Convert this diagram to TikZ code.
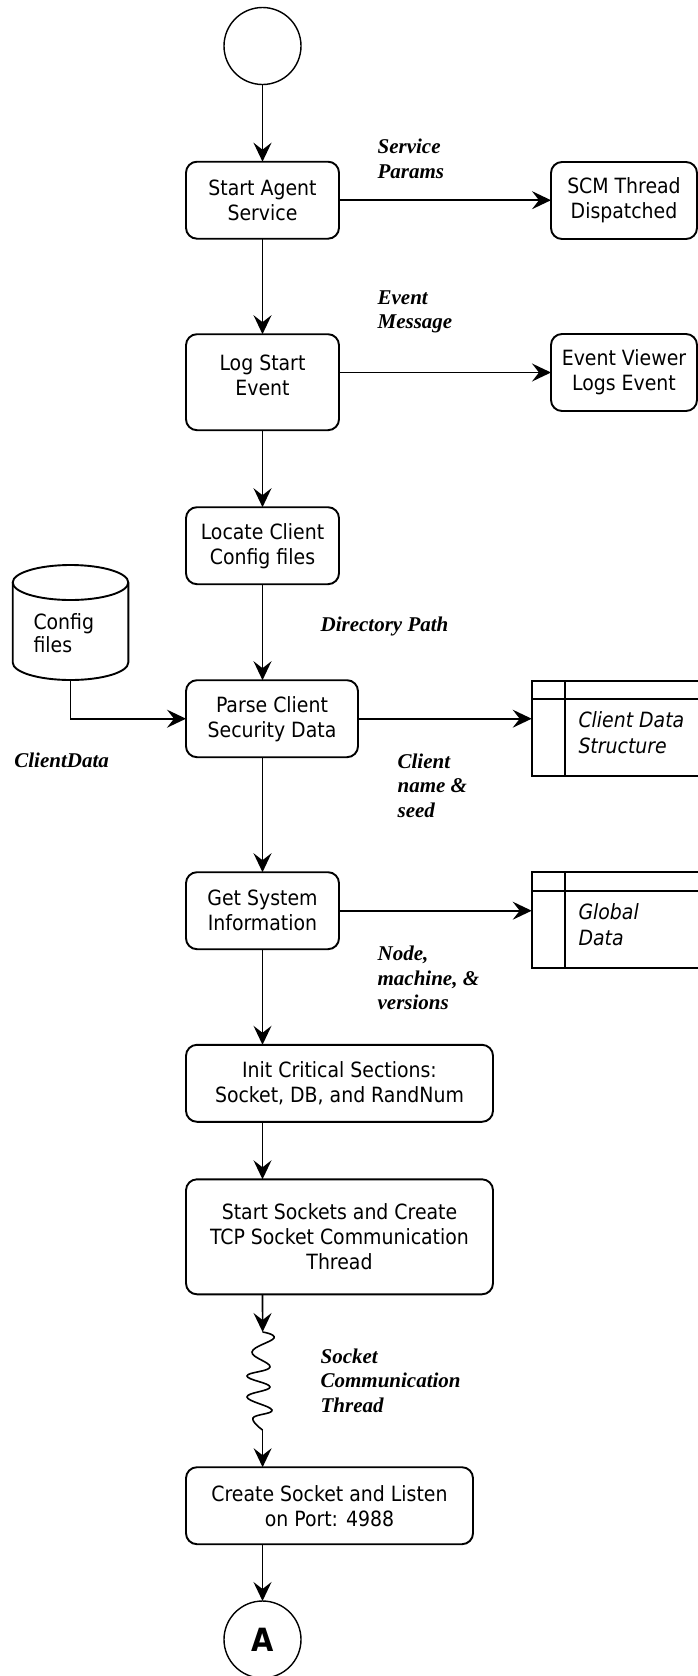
\documentclass[tikz,border=0pt]{standalone}
\usepackage{fontspec}
\newfontfamily\boxfont{DejaVu Sans Condensed}
\newfontfamily\notefont{Liberation Serif}
\usetikzlibrary{arrows.meta,calc}
\begin{document}
\begin{tikzpicture}[x=1pt,y=-1pt,
  proc/.style={draw, line width=1.9pt, rounded corners=11pt, inner sep=0pt, outer sep=0pt,
    align=center, font=\boxfont\fontsize{21}{25}\selectfont},
  endpoint/.style={draw, circle, line width=1.4pt, minimum size=77pt, inner sep=0pt, outer sep=0pt},
  flow/.style={line width=1.6pt, -{Stealth[length=19pt,width=18pt,inset=7pt]}},
  wire/.style={line width=1.6pt},
  note/.style={anchor=west, align=left, inner sep=0pt,
    font=\notefont\bfseries\itshape\fontsize{21}{24.5}\selectfont},
  store/.style={line width=1.9pt},
  storetext/.style={anchor=west, align=left, inner sep=0pt,
    font=\boxfont\itshape\fontsize{21}{25.5}\selectfont},
  area/.style={inner sep=0pt, outer sep=0pt}
]
\useasboundingbox (0,0) rectangle (698,1676);

% start and end markers
\node[endpoint] (begin) at (262.5,46) {};
\node[endpoint] (cont) at (262.5,1639.5) {\boxfont\bfseries\fontsize{32}{32}\selectfont A};

% process steps
\node[proc, minimum width=153pt, minimum height=77pt] (start) at (262.5,200.2) {Start Agent\\Service};
\node[proc, minimum width=146pt, minimum height=77pt] (scm) at (624,200.5) {SCM Thread\\Dispatched};
\node[proc, minimum width=153pt, minimum height=96pt] (log) at (262.5,382.2) {};
\node[align=center, font=\boxfont\fontsize{21}{25}\selectfont, inner sep=0pt] (logtxt) at (262.5,375.5) {Log Start\\Event};
\node[proc, minimum width=146pt, minimum height=77pt] (viewer) at (624,372.5) {Event Viewer\\Logs Event};
\node[proc, minimum width=153pt, minimum height=77pt] (locate) at (262.5,545.7) {Locate Client\\Config files};
\node[proc, minimum width=172pt, minimum height=77pt] (parse) at (272,718.7) {Parse Client\\Security Data};
\node[proc, minimum width=153pt, minimum height=77pt] (getsys) at (262.5,910.7) {Get System\\Information};
\node[proc, minimum width=307pt, minimum height=77pt] (init) at (339.5,1083.3) {Init Critical Sections:\\Socket, DB, and RandNum};
\node[proc, minimum width=307pt, minimum height=115pt] (sockets) at (339.5,1236.8) {Start Sockets and Create\\TCP Socket Communication\\Thread};
\node[proc, minimum width=287pt, minimum height=77pt] (create) at (329.5,1505.7) {Create Socket and Listen\\on Port: 4988};

% config file store (cylinder)
\node[area, minimum width=115.6pt, minimum height=115pt] (cfg) at (70.5,622.5) {};
\draw[store] (12.7,582.5) -- (12.7,662.5) arc[start angle=180, end angle=360, x radius=57.8pt, y radius=17.5pt] -- (128.3,582.5);
\draw[store] (70.5,582.5) ellipse[x radius=57.8pt, y radius=17.5pt];
\node[storetext, font=\boxfont\fontsize{21}{23}\selectfont] (cfgtxt) at (33.3,633) {Config\\files};

% data tables
\node[area, minimum width=168.3pt, minimum height=95.3pt] (cds) at (615.85,728.35) {};
\draw[store] (cds.north east) -- (cds.north west) -- (cds.south west) -- (cds.south east);
\draw[store] (531.7,699) -- (700,699);
\draw[store] (565,680.7) -- (565,776);
\node[storetext] (cdstxt) at (578.3,732.5) {Client Data\\Structure};

\node[area, minimum width=168.3pt, minimum height=95.4pt] (gd) at (615.85,920) {};
\draw[store] (gd.north east) -- (gd.north west) -- (gd.south west) -- (gd.south east);
\draw[store] (531.7,890.7) -- (700,890.7);
\draw[store] (565,872.3) -- (565,967.7);
\node[storetext] (gdtxt) at (578.3,924.7) {Global\\Data};

% connectors
\draw[flow] (begin) -- (start);
\draw[flow] (start.east) -- (start.east -| scm.west);
\draw[flow] (start) -- (log);
\draw[flow] (log.east |- viewer.west) -- (viewer.west);
\draw[flow] (log) -- (locate);
\draw[flow] (locate.south) -- (locate.south |- parse.north);
\draw[flow] (cfg.south) |- (parse.west);
\draw[flow] (parse.east) -- (parse.east -| cds.west);
\draw[flow] (parse.south -| getsys.north) -- (getsys.north);
\draw[flow] (getsys.east) -- (getsys.east -| gd.west);
\draw[flow] (getsys.south) -- (getsys.south |- init.north);
\draw[flow] (init.south -| getsys.south) -- (sockets.north -| getsys.south);
\coordinate (w1) at (262.6,1332);
\coordinate (w2) at (262.6,1430);
\draw[flow] (sockets.south -| getsys.south) -- (w1);
\draw[wire] plot[smooth, tension=0.7] coordinates {(w1) (274,1338) (252,1352) (270,1367) (247,1376) (270,1387) (247,1397) (272,1410) (253,1418) (w2)};
\draw[flow] (w2) -- (w2 |- create.north);
\draw[flow] (create.south -| getsys.south) -- (cont);

% connector labels
\node[note] (l1) at (377.4,158.7) {Service\\Params};
\node[note] (l2) at (377.4,312) {Event\\Message};
\node[note] (l3) at (320.4,626.7) {Directory Path};
\node[note] (l4) at (14.2,760.7) {ClientData};
\node[note] (l5) at (397.4,785.5) {Client\\name \&\\seed};
\node[note] (l6) at (377.4,977.9) {Node,\\machine, \&\\versions};
\node[note] (l7) at (320.4,1380.7) {Socket\\Communication\\Thread};
\end{tikzpicture}
\end{document}
